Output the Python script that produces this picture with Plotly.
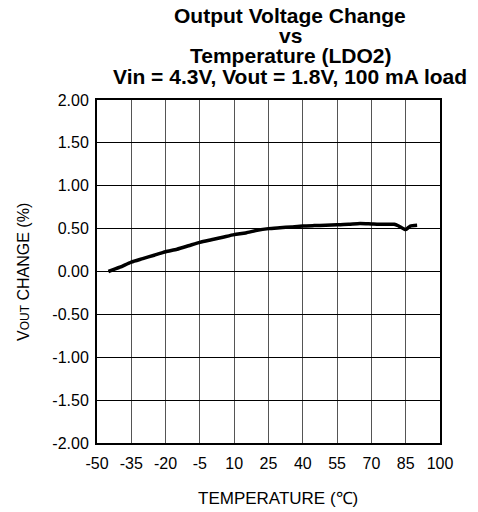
import plotly.graph_objects as go

temps = [-45, -40, -35, -30, -25, -20, -15, -10, -5, 0, 5, 10, 15, 20, 25, 30, 35,
         40, 45, 50, 55, 60, 65, 70, 75, 80, 82, 85, 87, 90]
vout_change = [0.00, 0.05, 0.11, 0.15, 0.19, 0.23, 0.26, 0.30, 0.34, 0.37, 0.40, 0.43,
               0.45, 0.48, 0.50, 0.51, 0.52, 0.53, 0.535, 0.54, 0.545, 0.55, 0.56, 0.555,
               0.55, 0.55, 0.53, 0.49, 0.53, 0.54]

x_ticks = [-50, -35, -20, -5, 10, 25, 40, 55, 70, 85, 100]
y_ticks = [-2.0, -1.5, -1.0, -0.5, 0.0, 0.5, 1.0, 1.5, 2.0]

title_lines = ["Output Voltage Change", "vs", "Temperature (LDO2)",
               "Vin = 4.3V, Vout = 1.8V, 100 mA load"]
x_title = "TEMPERATURE (℃)"
y_title = "V<span style='font-size:12px'>OUT</span> CHANGE (%)"

# page body has an 8px margin; figure is sized/offset to compensate
W, H = 470, 504
L, R, T, B = 89, 38, 92, 69
PW, PH = W - L - R, H - T - B
OFF = 8


def px_to_paper_x(page_x):
    return (page_x - OFF - L) / PW


def px_to_paper_y(page_y):
    return (H - B - (page_y - OFF)) / PH


font_family = "Liberation Sans, Arial, sans-serif"

fig = go.Figure()
fig.add_trace(go.Scatter(x=temps, y=vout_change, mode="lines",
                         line=dict(color="black", width=3.5, shape="spline", smoothing=0.6),
                         showlegend=False, hoverinfo="skip"))

annotations = []
title_centers = [16, 36, 56, 76]
for text, cy in zip(title_lines, title_centers):
    annotations.append(dict(text="<b>%s</b>" % text, xref="paper", yref="paper",
                            x=px_to_paper_x(290), y=px_to_paper_y(cy),
                            xanchor="center", yanchor="middle", showarrow=False,
                            font=dict(size=21, family=font_family, color="black")))
annotations.append(dict(text=x_title, xref="paper", yref="paper",
                        x=px_to_paper_x(278), y=px_to_paper_y(498),
                        xanchor="center", yanchor="middle", showarrow=False,
                        font=dict(size=17, family=font_family, color="black")))
annotations.append(dict(text=y_title, xref="paper", yref="paper",
                        x=px_to_paper_x(23), y=px_to_paper_y(272), textangle=-90,
                        xanchor="center", yanchor="middle", showarrow=False,
                        font=dict(size=16, family=font_family, color="black")))

fig.update_layout(
    width=W, height=H,
    margin=dict(l=L, r=R, t=T, b=B),
    paper_bgcolor="white", plot_bgcolor="white",
    font=dict(family=font_family, color="black"),
    annotations=annotations,
    xaxis=dict(range=[-50, 100], tickvals=x_ticks, ticktext=[str(v) for v in x_ticks],
               showgrid=True, gridcolor="#555", gridwidth=1,
               showline=True, linecolor="black", linewidth=2, mirror=True,
               ticks="", ticklabelstandoff=5, zeroline=False,
               tickfont=dict(size=16)),
    yaxis=dict(range=[-2, 2], tickvals=y_ticks, ticktext=["%.2f" % v for v in y_ticks],
               showgrid=True, gridcolor="black", gridwidth=1,
               showline=True, linecolor="black", linewidth=2, mirror=True,
               ticks="", ticklabelstandoff=3, zeroline=False,
               tickfont=dict(size=16)),
)

fig.write_html("out.html")
